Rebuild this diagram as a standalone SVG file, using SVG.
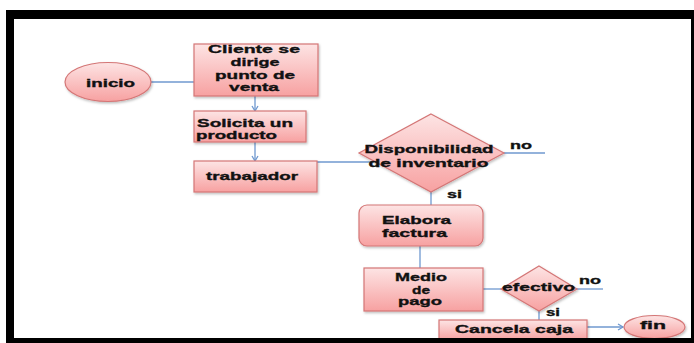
<svg xmlns="http://www.w3.org/2000/svg" width="694" height="343" viewBox="0 0 694 343">
<defs>
<linearGradient id="g" x1="0" y1="0" x2="0" y2="1">
<stop offset="0" stop-color="#fde4e4"/>
<stop offset="1" stop-color="#f7a1a1"/>
</linearGradient>
<marker id="ar" markerWidth="8" markerHeight="8" refX="6" refY="4" orient="auto" markerUnits="userSpaceOnUse">
<path d="M1,1 L6,4 L1,7" fill="none" stroke="#6f98cf" stroke-width="1.3"/>
</marker>
<filter id="sh" x="-10%" y="-10%" width="130%" height="140%">
<feDropShadow dx="1" dy="1.5" stdDeviation="1" flood-color="#000" flood-opacity="0.25"/>
</filter>
</defs>
<style>
.n{fill:url(#g);stroke:#d47676;stroke-width:1.2;filter:url(#sh)}
.t{font-family:"Liberation Sans",Arial,sans-serif;font-weight:bold;font-size:11.5px;fill:#111;stroke:#111;stroke-width:0.35}
.c{fill:none;stroke:#6f98cf;stroke-width:1.3}
</style>
<rect x="0" y="0" width="694" height="343" fill="#fff"/>
<g id="connectors">
<line class="c" x1="151" y1="82" x2="194" y2="82"/>
<line class="c" x1="255" y1="96" x2="255" y2="111" marker-end="url(#ar)"/>
<line class="c" x1="255" y1="142" x2="255" y2="161" marker-end="url(#ar)"/>
<line class="c" x1="317" y1="162" x2="372" y2="162"/>
<line class="c" x1="504" y1="153" x2="545" y2="153"/>
<line class="c" x1="431" y1="192" x2="431" y2="205"/>
<line class="c" x1="420" y1="246" x2="420" y2="268"/>
<line class="c" x1="483" y1="289" x2="503" y2="289"/>
<line class="c" x1="575" y1="289" x2="603" y2="289"/>
<line class="c" x1="539" y1="311" x2="539" y2="320"/>
<line class="c" x1="587" y1="327" x2="623" y2="327" marker-end="url(#ar)"/>
</g>
<g id="inicio">
<ellipse class="n" cx="108" cy="82" rx="43" ry="19.5"/>
<text class="t" x="110.5" y="87" text-anchor="middle" textLength="49" lengthAdjust="spacingAndGlyphs">inicio</text>
</g>
<g id="cliente">
<rect class="n" x="194" y="44" width="124" height="52"/>
<text class="t" x="254" y="53" text-anchor="middle" textLength="92" lengthAdjust="spacingAndGlyphs">Cliente se</text>
<text class="t" x="255" y="66" text-anchor="middle" textLength="49" lengthAdjust="spacingAndGlyphs">dirige</text>
<text class="t" x="255" y="79" text-anchor="middle" textLength="80" lengthAdjust="spacingAndGlyphs">punto de</text>
<text class="t" x="254" y="91" text-anchor="middle" textLength="50" lengthAdjust="spacingAndGlyphs">venta</text>
</g>
<g id="solicita">
<rect class="n" x="194" y="111" width="112" height="31"/>
<text class="t" x="197" y="127" textLength="96" lengthAdjust="spacingAndGlyphs">Solicita un</text>
<text class="t" x="196" y="139" textLength="81" lengthAdjust="spacingAndGlyphs">producto</text>
</g>
<g id="trabajador">
<rect class="n" x="194" y="161" width="123" height="31"/>
<text class="t" x="206" y="180" textLength="92" lengthAdjust="spacingAndGlyphs">trabajador</text>
</g>
<g id="disponibilidad">
<polygon class="n" points="431,114 504,153 431,192 359,153"/>
<text class="t" x="429" y="153" text-anchor="middle" textLength="129" lengthAdjust="spacingAndGlyphs">Disponibilidad</text>
<text class="t" x="428.5" y="167" text-anchor="middle" textLength="120" lengthAdjust="spacingAndGlyphs">de inventario</text>
<text class="t" x="510" y="149" textLength="22" lengthAdjust="spacingAndGlyphs">no</text>
<text class="t" x="447" y="198" textLength="15" lengthAdjust="spacingAndGlyphs">si</text>
</g>
<g id="elabora">
<rect class="n" x="359" y="205" width="124" height="41" rx="8"/>
<text class="t" x="382" y="224" textLength="69" lengthAdjust="spacingAndGlyphs">Elabora</text>
<text class="t" x="382" y="237" textLength="65" lengthAdjust="spacingAndGlyphs">factura</text>
</g>
<g id="medio">
<rect class="n" x="364" y="268" width="119" height="43"/>
<text class="t" x="421" y="281" text-anchor="middle" textLength="52" lengthAdjust="spacingAndGlyphs">Medio</text>
<text class="t" x="421" y="294" text-anchor="middle" textLength="18" lengthAdjust="spacingAndGlyphs">de</text>
<text class="t" x="420" y="305" text-anchor="middle" textLength="44" lengthAdjust="spacingAndGlyphs">pago</text>
</g>
<g id="efectivo">
<polygon class="n" points="539,266 577,289 539,311 501,289"/>
<text class="t" x="502" y="291" textLength="73" lengthAdjust="spacingAndGlyphs">efectivo</text>
<text class="t" x="579" y="284" textLength="22" lengthAdjust="spacingAndGlyphs">no</text>
<text class="t" x="546" y="316" textLength="14" lengthAdjust="spacingAndGlyphs">si</text>
</g>
<g id="cancela">
<rect class="n" x="439" y="320" width="148" height="20"/>
<text class="t" x="455" y="333" textLength="118" lengthAdjust="spacingAndGlyphs">Cancela caja</text>
</g>
<g id="fin">
<ellipse class="n" cx="654.5" cy="327" rx="30.5" ry="11.5"/>
<text class="t" x="640" y="329" textLength="26" lengthAdjust="spacingAndGlyphs">fin</text>
</g>
<path d="M6,10 H694 V343 H6 Z M14,19 V338 H691 V19 Z" fill="#000" fill-rule="evenodd"/>
</svg>
